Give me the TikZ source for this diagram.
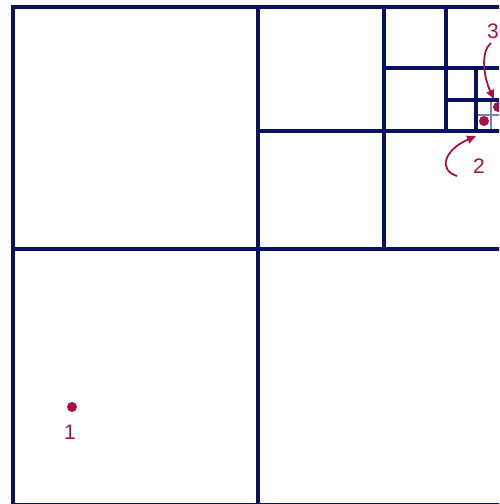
\documentclass[tikz,border=0pt]{standalone}
\usetikzlibrary{arrows.meta}
\usepackage{fontspec}
\setmainfont{Liberation Sans}
\definecolor{navy}{RGB}{8,18,96}
\definecolor{crim}{RGB}{170,16,72}
\definecolor{pale}{RGB}{120,130,180}
\tikzset{
  grid/.style={draw=navy,line width=4pt},
  thin grid/.style={draw=pale,line width=1.2pt},
  pt/.style={circle,fill=crim,inner sep=0pt,minimum size=10pt},
  lab/.style={text=crim,font=\fontsize{21}{21}\selectfont,inner sep=0pt},
  callout/.style={draw=crim,line width=1.8pt,-{Triangle[length=9pt,width=8pt]}}
}
\begin{document}
\begin{tikzpicture}[x=1pt,y=-1pt]
\useasboundingbox (0,0) rectangle (499,504);
\fill[white] (0,0) rectangle (499,504);
\begin{scope}
\clip (0,0) rectangle (499,504);
% level 4 light lines
\draw[thin grid] (491,100) -- (491,131);
\draw[thin grid] (476,115) -- (510,115);
% main square
\draw[grid] (13,7) rectangle (504,505);
\draw[grid] (258,7) -- (258,505);
\draw[grid] (13,249) -- (504,249);
% level 1
\draw[grid] (384,7) -- (384,249);
\draw[grid] (258,131) -- (504,131);
% level 2
\draw[grid] (446,7) -- (446,131);
\draw[grid] (384,68) -- (504,68);
% level 3
\draw[grid] (476,68) -- (476,131);
\draw[grid] (446,100) -- (504,100);
% points
\node[pt] (p1) at (72,407) {};
\node[pt] (p2) at (484,121) {};
\node[pt] (p3) at (498,107) {};
\node[lab] (l1) at (70,432) {1};
\node[lab] (l2) at (479,166) {2};
\node[lab] (l3) at (493,31) {3};
\coordinate (s2) at (457,176);
\coordinate (s3) at (491,43);
\draw[callout] (s2) .. controls (438,170) and (444,150) .. (476,136);
\draw[callout] (s3) .. controls (480,52) and (484,78) .. (494,99);
\end{scope}
\end{tikzpicture}
\end{document}
